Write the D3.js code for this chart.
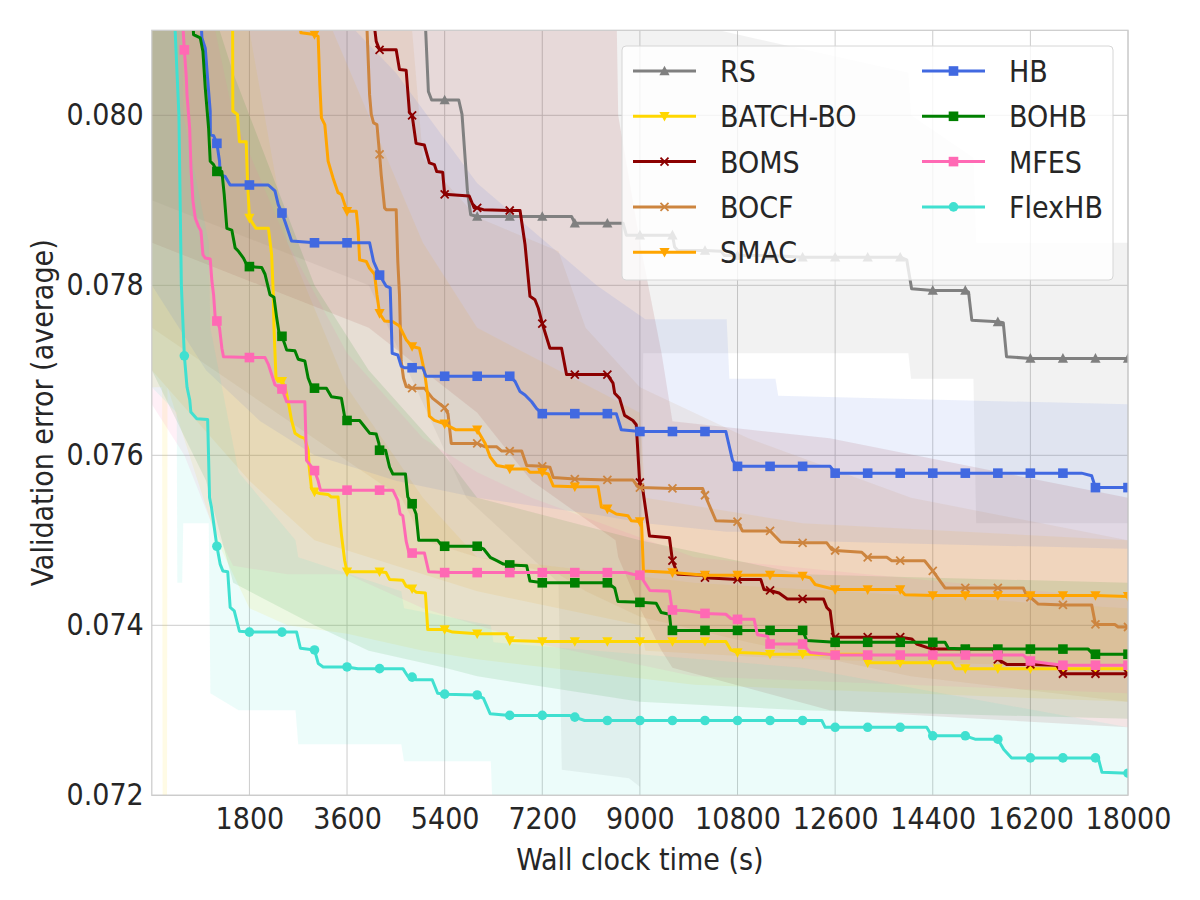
<!DOCTYPE html>
<html><head><meta charset="utf-8">
<script src="https://cdn.jsdelivr.net/npm/d3@7/dist/d3.min.js"></script>
<style>
html,body{margin:0;padding:0;background:#fff;}
svg text{font-family:"DejaVu Sans Condensed","DejaVu Sans",sans-serif;font-stretch:condensed;fill:#262626;}
</style></head><body>
<svg id="chart" width="1200" height="900"></svg>
<script>
const xTicks = [1800,3600,5400,7200,9000,10800,12600,14400,16200,18000];
const yTicks = [0.072,0.074,0.076,0.078,0.080];
const seriesNames = ["RS","BATCH-BO","BOMS","BOCF","SMAC","HB","BOHB","MFES","FlexHB"];

const rsLine = [[4800,0.0835],[5050,0.0810],[5100,0.08028],[5160,0.08018],[5400,0.08018],[5660,0.08018],[5720,0.08001],[5820,0.07911],[5880,0.07883],[6000,0.07881],[6600,0.07881],[7200,0.07881],[7740,0.07881],[7800,0.07873],[8400,0.07873],[8690,0.07873],[8750,0.07859],[9000,0.07859],[9600,0.07859],[9640,0.07845],[9700,0.07841],[10200,0.07841],[10500,0.07840],[10560,0.07835],[10800,0.07835],[11400,0.07835],[12000,0.07833],[12600,0.07833],[13200,0.07833],[13800,0.07833],[13920,0.07830],[14010,0.07796],[14400,0.07794],[15000,0.07794],[15060,0.07792],[15120,0.07759],[15600,0.07757],[15700,0.07756],[15760,0.07716],[16200,0.07714],[16800,0.07714],[17400,0.07714],[18000,0.07714]];
const batchLine = [[1200,0.0835],[1490,0.0812],[1494,0.08005],[1580,0.08001],[1616,0.07969],[1740,0.07969],[1763,0.07926],[1800,0.07879],[1920,0.07867],[2150,0.07867],[2210,0.07836],[2240,0.07789],[2253,0.0775],[2290,0.07691],[2330,0.07687],[2400,0.07687],[2455,0.07681],[2516,0.07663],[2578,0.07641],[2640,0.07626],[2730,0.07622],[2820,0.0762],[2883,0.07606],[2902,0.07586],[2945,0.07561],[3000,0.07557],[3100,0.07555],[3250,0.07554],[3310,0.07551],[3434,0.07551],[3465,0.07527],[3496,0.07507],[3557,0.07476],[3600,0.07463],[4200,0.07463],[4320,0.07462],[4384,0.07454],[4628,0.07453],[4690,0.07446],[4800,0.07443],[4873,0.07439],[5045,0.07438],[5088,0.07395],[5400,0.07395],[5547,0.07392],[6000,0.0739],[6545,0.0739],[6600,0.07382],[7200,0.07381],[7800,0.07381],[8400,0.07381],[9000,0.07381],[9600,0.07381],[10200,0.07381],[10585,0.07381],[10677,0.07371],[10800,0.07368],[11200,0.07367],[11400,0.07366],[12000,0.07366],[12600,0.07366],[13120,0.07366],[13183,0.07356],[13200,0.07356],[13800,0.07356],[14400,0.07356],[14750,0.07356],[14810,0.07349],[15000,0.07349],[15600,0.07349],[16200,0.07349],[16800,0.07349],[17400,0.07349],[18000,0.07349]];
const bomsLine = [[3900,0.0835],[4108,0.08103],[4138,0.08087],[4200,0.08077],[4506,0.08077],[4567,0.08054],[4690,0.08053],[4751,0.08003],[4800,0.0800],[4873,0.07967],[5026,0.07965],[5118,0.07944],[5210,0.07942],[5253,0.07934],[5363,0.07933],[5400,0.07907],[5853,0.07905],[5944,0.07891],[6000,0.07891],[6116,0.07889],[6600,0.07888],[6790,0.07888],[6882,0.07848],[6973,0.07787],[7065,0.07783],[7127,0.07773],[7188,0.07758],[7200,0.07755],[7341,0.07726],[7555,0.07726],[7647,0.07695],[7800,0.07695],[8400,0.07695],[8504,0.07685],[8535,0.07673],[8626,0.07667],[8718,0.07647],[8871,0.07641],[8933,0.07636],[8994,0.0757],[9000,0.07568],[9055,0.07559],[9177,0.07505],[9545,0.07503],[9600,0.07476],[9698,0.0746],[10157,0.07459],[10200,0.07456],[10800,0.07454],[11228,0.07454],[11289,0.07442],[11400,0.07441],[11565,0.07438],[11718,0.07431],[12000,0.07431],[12385,0.07431],[12446,0.07421],[12508,0.07417],[12569,0.07387],[12600,0.07386],[13200,0.07386],[13800,0.07386],[14012,0.07384],[14104,0.07378],[14288,0.07374],[14400,0.07372],[15000,0.07372],[15517,0.07372],[15578,0.07362],[15600,0.0736],[15762,0.07354],[16200,0.07354],[16683,0.07353],[16775,0.07344],[16800,0.07343],[17400,0.07343],[18000,0.07343]];
const bocfLine = [[3800,0.0835],[3967,0.08103],[4016,0.08024],[4047,0.08001],[4089,0.07991],[4151,0.07989],[4200,0.07954],[4230,0.0793],[4292,0.07891],[4322,0.07889],[4506,0.07889],[4536,0.07828],[4567,0.07789],[4598,0.07711],[4641,0.07691],[4690,0.07681],[4800,0.07679],[5026,0.07679],[5179,0.07667],[5400,0.07656],[5461,0.07649],[5491,0.07632],[5522,0.07614],[6000,0.07614],[6147,0.0761],[6361,0.0761],[6453,0.07605],[6600,0.07605],[6820,0.07605],[6912,0.07588],[7200,0.07587],[7341,0.07586],[7402,0.07574],[7800,0.07572],[8400,0.07571],[8871,0.07571],[8963,0.07563],[9000,0.07562],[9600,0.07561],[10157,0.07561],[10200,0.07553],[10402,0.07523],[10800,0.07522],[10892,0.07511],[11400,0.07511],[11596,0.07498],[12000,0.07497],[12446,0.07497],[12539,0.07489],[12600,0.07488],[13091,0.07486],[13183,0.0748],[13200,0.0748],[13552,0.0748],[13644,0.07476],[13800,0.07476],[14250,0.07476],[14400,0.07464],[14626,0.07444],[15000,0.07444],[15600,0.07444],[16069,0.07444],[16131,0.07435],[16200,0.07433],[16345,0.07425],[16800,0.07424],[17330,0.07424],[17400,0.07401],[17758,0.07401],[17819,0.07398],[18000,0.07398]];
const smacLine = [[2400,0.0830],[2750,0.08097],[3000,0.08095],[3067,0.08093],[3098,0.08036],[3128,0.07997],[3190,0.07989],[3251,0.07946],[3343,0.07926],[3434,0.07909],[3496,0.07907],[3600,0.07887],[3771,0.07887],[3802,0.07867],[3832,0.0783],[3955,0.07828],[4016,0.0782],[4108,0.07813],[4151,0.07789],[4200,0.07767],[4292,0.07758],[4445,0.07757],[4567,0.07752],[4690,0.07736],[4800,0.07728],[4934,0.07726],[5026,0.07699],[5087,0.07671],[5118,0.07646],[5210,0.07641],[5400,0.07637],[5608,0.0763],[6000,0.0763],[6147,0.07614],[6239,0.07598],[6361,0.07588],[6545,0.07586],[6600,0.07584],[6912,0.07584],[6973,0.0758],[7200,0.0758],[7310,0.07578],[7402,0.07564],[7800,0.07563],[8228,0.07563],[8290,0.07539],[8400,0.07537],[8565,0.07531],[8779,0.07529],[8841,0.07523],[9000,0.07522],[9030,0.07521],[9065,0.07464],[9600,0.07462],[10200,0.07459],[10800,0.07459],[11400,0.07459],[12000,0.07458],[12139,0.07456],[12232,0.07448],[12600,0.07442],[13200,0.07442],[13800,0.07442],[13889,0.07436],[14400,0.07435],[15000,0.07435],[15600,0.07435],[16200,0.07435],[16800,0.07435],[17400,0.07435],[18000,0.07434]];
const hbLine = [[700,0.0840],[924,0.08091],[986,0.08079],[1028,0.08044],[1077,0.08005],[1080,0.07977],[1139,0.07976],[1200,0.07967],[1249,0.07946],[1261,0.0793],[1353,0.07928],[1445,0.07918],[1800,0.07918],[2149,0.07918],[2271,0.07911],[2332,0.07895],[2400,0.07885],[2455,0.07875],[2577,0.07852],[3000,0.0785],[3600,0.0785],[4016,0.0785],[4089,0.07828],[4200,0.07812],[4322,0.07799],[4396,0.07797],[4432,0.0772],[4536,0.07718],[4598,0.07705],[4659,0.07703],[4800,0.07703],[4996,0.07703],[5057,0.07693],[5400,0.07693],[6000,0.07693],[6600,0.07693],[6698,0.07687],[6790,0.07675],[6882,0.07671],[7004,0.07663],[7096,0.07655],[7200,0.07649],[7800,0.07649],[8400,0.07649],[8565,0.07649],[8657,0.0763],[9000,0.07628],[9600,0.07628],[10200,0.07628],[10585,0.07628],[10708,0.07594],[10800,0.07587],[11400,0.07587],[12000,0.07587],[12508,0.07587],[12580,0.07581],[12600,0.07579],[13200,0.07579],[13800,0.07579],[14400,0.07579],[15000,0.07579],[15600,0.07579],[16200,0.07579],[16800,0.07579],[17144,0.07579],[17330,0.07576],[17400,0.07562],[18000,0.07562]];
const bohbLine = [[600,0.0830],[770,0.08095],[894,0.08091],[943,0.08075],[986,0.08032],[1047,0.07985],[1077,0.07946],[1139,0.07942],[1200,0.07934],[1292,0.07934],[1335,0.07907],[1384,0.07867],[1475,0.07865],[1537,0.07844],[1598,0.0784],[1690,0.07832],[1751,0.07824],[1800,0.07822],[2026,0.07821],[2088,0.07813],[2179,0.07789],[2253,0.07786],[2302,0.07762],[2351,0.07742],[2400,0.0774],[2455,0.0773],[2486,0.07724],[2639,0.07723],[2700,0.07713],[2822,0.07711],[2883,0.07691],[2945,0.07681],[3000,0.07679],[3220,0.07679],[3312,0.07669],[3496,0.07667],[3557,0.07645],[3600,0.07641],[3832,0.07641],[3894,0.07636],[4016,0.07626],[4138,0.07625],[4187,0.07614],[4200,0.07606],[4310,0.07606],[4384,0.07586],[4445,0.07578],[4677,0.07578],[4720,0.07551],[4800,0.07543],[4873,0.07531],[4922,0.0750],[5271,0.0750],[5332,0.07495],[5400,0.07493],[6000,0.07493],[6116,0.0749],[6239,0.0748],[6361,0.07476],[6484,0.07472],[6600,0.07471],[6912,0.0747],[6973,0.07452],[7200,0.0745],[7800,0.0745],[8400,0.0745],[8535,0.07444],[8596,0.07428],[9000,0.07427],[9300,0.07426],[9392,0.07415],[9545,0.07413],[9575,0.07395],[9600,0.07394],[10200,0.07394],[10800,0.07394],[11400,0.07394],[12000,0.07394],[12078,0.07382],[12600,0.0738],[13200,0.0738],[13800,0.0738],[14400,0.0738],[14626,0.0738],[14688,0.07373],[15000,0.07372],[15600,0.07372],[16200,0.07372],[16800,0.07372],[17266,0.07372],[17358,0.07366],[17400,0.07366],[18000,0.07366]];
const mfesLine = [[400,0.0840],[575,0.08103],[600,0.08077],[637,0.08044],[649,0.08024],[698,0.07985],[722,0.07938],[759,0.07899],[802,0.07879],[863,0.07869],[906,0.07864],[943,0.07836],[986,0.07832],[1077,0.07831],[1108,0.07805],[1139,0.07789],[1169,0.07762],[1200,0.07758],[1249,0.0775],[1292,0.07726],[1322,0.07716],[1800,0.07715],[2088,0.07715],[2149,0.07707],[2210,0.07695],[2271,0.07683],[2400,0.07678],[2486,0.07663],[2822,0.07663],[2853,0.07594],[3000,0.07582],[3067,0.0757],[3110,0.07559],[3600,0.07559],[4200,0.07559],[4445,0.07559],[4536,0.07547],[4579,0.07531],[4628,0.07529],[4690,0.07499],[4739,0.07486],[4800,0.07485],[5027,0.07485],[5106,0.07463],[5400,0.07462],[6000,0.07462],[6600,0.07462],[7200,0.07462],[7800,0.07462],[8400,0.07462],[8749,0.07462],[8871,0.0746],[9000,0.07459],[9184,0.07441],[9545,0.0744],[9590,0.0742],[9600,0.07418],[9851,0.07417],[10096,0.07415],[10200,0.07414],[10585,0.07413],[10677,0.07408],[10800,0.07407],[11106,0.07407],[11167,0.07389],[11351,0.07387],[11400,0.07378],[12000,0.07378],[12139,0.07368],[12600,0.07365],[13200,0.07365],[13800,0.07365],[14400,0.07365],[15000,0.07365],[15600,0.07365],[16069,0.07365],[16161,0.07359],[16200,0.07358],[16530,0.07355],[16800,0.07353],[17400,0.07353],[18000,0.07353]];
const flexLine = [[300,0.0860],[430,0.0810],[500,0.0800],[545,0.0780],[600,0.07717],[650,0.0768],[700,0.07665],[720,0.07651],[830,0.07643],[1030,0.07642],[1065,0.0755],[1100,0.07539],[1200,0.07493],[1260,0.07472],[1310,0.07464],[1400,0.07463],[1445,0.07421],[1520,0.07417],[1616,0.07393],[1800,0.07392],[2400,0.07392],[2670,0.07392],[2740,0.07373],[3000,0.07371],[3070,0.07355],[3160,0.07351],[3600,0.07351],[3800,0.07349],[4200,0.07349],[4630,0.07349],[4720,0.0734],[4800,0.07339],[4870,0.07336],[5170,0.07336],[5270,0.0732],[5400,0.07319],[6000,0.07318],[6116,0.07314],[6238,0.07296],[6600,0.07294],[7200,0.07294],[7700,0.07294],[7800,0.07292],[7980,0.07288],[8400,0.07288],[9000,0.07288],[9600,0.07288],[10200,0.07288],[10800,0.07288],[11400,0.07288],[12000,0.07288],[12354,0.07288],[12416,0.0728],[12600,0.0728],[13200,0.0728],[13800,0.0728],[14288,0.0728],[14380,0.0727],[14400,0.0727],[15000,0.0727],[15179,0.07266],[15600,0.07266],[15710,0.07254],[15854,0.07244],[16200,0.07244],[16800,0.07244],[17400,0.07244],[17450,0.07244],[17520,0.07227],[18000,0.07226]];

// bands: [time, lower, upper]
const rsBand = [[0,0.0790,0.0830],[4000,0.0780,0.0830],[5800,0.0755,0.0830],[7500,0.0745,0.0825],[7560,0.0723,0.0825],[8800,0.0722,0.0815],[9000,0.0721,0.0815],[9060,0.0772,0.0812],[13950,0.0772,0.0805],[14000,0.0769,0.0800],[15150,0.0769,0.0795],[15200,0.0752,0.0785],[18000,0.0752,0.0785]];
const batchBand = [[0,0.0768,0.0830],[190,0.0768,0.0830],[200,0.0715,0.0830],[280,0.0715,0.0830],[290,0.0768,0.0830],[1200,0.0750,0.0825],[1800,0.0742,0.0810],[2500,0.0740,0.0785],[3600,0.0739,0.0768],[5000,0.0737,0.0755],[6000,0.0736,0.0748],[10000,0.0733,0.0745],[18000,0.0731,0.0742]];
const bomsBand = [[0,0.0785,0.0830],[4000,0.0775,0.0830],[6000,0.0765,0.0830],[7000,0.0757,0.0825],[8550,0.0750,0.0820],[8600,0.0748,0.0800],[9000,0.0742,0.0785],[9400,0.0737,0.0772],[9600,0.0735,0.0764],[12500,0.0730,0.0762],[18000,0.0728,0.0755]];
const bocfBand = [[0,0.0775,0.0830],[4600,0.0755,0.0825],[5000,0.0750,0.0795],[6000,0.0748,0.0788],[7500,0.0746,0.0784],[8000,0.0744,0.0775],[9000,0.0741,0.0768],[11000,0.0738,0.0762],[14000,0.0734,0.0755],[18000,0.0731,0.0750]];
const smacBand = [[0,0.0770,0.0830],[1800,0.0757,0.0830],[3000,0.0750,0.0815],[4000,0.0748,0.0800],[5000,0.0746,0.0785],[6000,0.0744,0.0775],[9000,0.0740,0.0765],[9100,0.0737,0.0755],[12000,0.0736,0.0752],[18000,0.0735,0.0750]];
const hbBand = [[0,0.0780,0.0830],[1000,0.0770,0.0830],[2000,0.0764,0.0825],[3000,0.0760,0.0815],[4500,0.0757,0.0805],[6000,0.0755,0.0792],[8200,0.0753,0.0780],[9100,0.0752,0.0776],[10600,0.0751,0.0776],[10650,0.0751,0.0769],[11500,0.0751,0.0769],[11550,0.0750,0.0767],[18000,0.0749,0.0766]];
const bohbBand = [[0,0.0770,0.0830],[1000,0.0757,0.0815],[1500,0.0745,0.0805],[3000,0.0740,0.0780],[4000,0.0737,0.0770],[5400,0.0735,0.0760],[6000,0.0734,0.0755],[9000,0.0731,0.0750],[12000,0.0730,0.0746],[18000,0.0729,0.0745]];
const mfesBand = [[0,0.0766,0.0830],[600,0.0760,0.0825],[1100,0.0752,0.0812],[1500,0.0747,0.0800],[2500,0.0746,0.0785],[3600,0.0746,0.0772],[5000,0.0742,0.0762],[6000,0.0740,0.0758],[7000,0.0738,0.0755],[10000,0.0734,0.0748],[18000,0.0732,0.0743]];
const flexBand = [[0,0.0768,0.0830],[460,0.0765,0.0820],[470,0.0745,0.0815],[560,0.0745,0.0810],[580,0.0752,0.0800],[1050,0.0752,0.0785],[1080,0.0732,0.0775],[1600,0.0730,0.0758],[2650,0.0730,0.0750],[2700,0.0726,0.0748],[4600,0.0726,0.0744],[4650,0.0724,0.0742],[6250,0.0724,0.0740],[6300,0.0716,0.0738],[12000,0.0715,0.0735],[18000,0.0714,0.0728]];

const lines = [rsLine,batchLine,bomsLine,bocfLine,smacLine,hbLine,bohbLine,mfesLine,flexLine];
const bands = [rsBand,batchBand,bomsBand,bocfBand,smacBand,hbBand,bohbBand,mfesBand,flexBand];
const colors = ["#808080","#FFD700","#8B0000","#CD853F","#FFA500","#4169E1","#008000","#FF69B4","#40E0D0"];
const markers = ["triUp","triDown","x","x","triDown","square","square","square","circle"];

const svg = d3.select("#chart");
const x = d3.scaleLinear().domain([0,18000]).range([151.8,1128]);
const y = d3.scaleLinear().domain([0.072,0.081]).range([795.3,30.3]);
const X0=x(0), X1=x(18000), Y0=y(0.081), Y1=y(0.072);

svg.append("defs").append("clipPath").attr("id","clip")
  .append("rect").attr("x",X0).attr("y",Y0).attr("width",X1-X0).attr("height",Y1-Y0);

const grid = svg.append("g");
grid.selectAll("line.v").data(xTicks).join("line")
  .attr("x1",d=>x(d)).attr("x2",d=>x(d)).attr("y1",Y0).attr("y2",Y1)
  .attr("stroke","#cccccc").attr("stroke-width",1);
grid.selectAll("line.h").data(yTicks).join("line")
  .attr("x1",X0).attr("x2",X1).attr("y1",d=>y(d)).attr("y2",d=>y(d))
  .attr("stroke","#cccccc").attr("stroke-width",1);

const plot = svg.append("g").attr("clip-path","url(#clip)");
const area = d3.area().x(d=>x(d[0])).y0(d=>y(d[1])).y1(d=>y(d[2]));
bands.forEach((b,i)=>{
  plot.append("path").datum(b).attr("d",area).attr("fill",colors[i]).attr("fill-opacity",0.1);
});

function drawMarker(g,type,cx,cy,c){
  const s=4.8;
  if(type==="square") g.append("rect").attr("x",cx-s).attr("y",cy-s).attr("width",2*s).attr("height",2*s).attr("fill",c);
  else if(type==="circle") g.append("circle").attr("cx",cx).attr("cy",cy).attr("r",s).attr("fill",c);
  else if(type==="triUp") g.append("path").attr("d",`M${cx},${cy-s-0.5}L${cx+s+0.3},${cy+s-0.5}L${cx-s-0.3},${cy+s-0.5}Z`).attr("fill",c);
  else if(type==="triDown") g.append("path").attr("d",`M${cx},${cy+s+0.5}L${cx+s+0.3},${cy-s+0.5}L${cx-s-0.3},${cy-s+0.5}Z`).attr("fill",c);
  else if(type==="x"){ const r=4; g.append("path").attr("d",`M${cx-r},${cy-r}L${cx+r},${cy+r}M${cx-r},${cy+r}L${cx+r},${cy-r}`).attr("stroke",c).attr("stroke-width",1.8).attr("fill","none"); }
}

const lineGen = d3.line().x(d=>x(d[0])).y(d=>y(d[1]));
lines.forEach((l,i)=>{
  const g = plot.append("g");
  g.append("path").datum(l).attr("d",lineGen).attr("fill","none").attr("stroke",colors[i])
    .attr("stroke-width",3).attr("stroke-linejoin","round").attr("stroke-linecap","round");
  l.filter(d=>d[0]%600===0).forEach(d=>drawMarker(g,markers[i],x(d[0]),y(d[1]),colors[i]));
});

svg.append("rect").attr("x",X0).attr("y",Y0).attr("width",X1-X0).attr("height",Y1-Y0)
  .attr("fill","none").attr("stroke","#cccccc").attr("stroke-width",1.25);

const fs = 30;
const xAxis = svg.append("g").attr("transform",`translate(0,${Y1})`)
  .call(d3.axisBottom(x).tickValues(xTicks).tickSize(0).tickPadding(12).tickFormat(d3.format("d")));
xAxis.select(".domain").remove();
xAxis.selectAll("text").style("font-size",fs+"px").attr("fill","#262626");
const yAxis = svg.append("g").attr("transform",`translate(${X0},0)`)
  .call(d3.axisLeft(y).tickValues(yTicks).tickSize(0).tickPadding(8).tickFormat(d3.format(".3f")));
yAxis.select(".domain").remove();
yAxis.selectAll("text").style("font-size",fs+"px").attr("fill","#262626");

svg.append("text").attr("x",(X0+X1)/2).attr("y",870).attr("text-anchor","middle")
  .style("font-size",fs+"px").text("Wall clock time (s)");
svg.append("text").attr("transform",`translate(53,${(Y0+Y1)/2}) rotate(-90)`).attr("text-anchor","middle")
  .style("font-size",fs+"px").text("Validation error (average)");

// legend
const lg = svg.append("g");
lg.append("rect").attr("x",622).attr("y",46).attr("width",491).attr("height",234).attr("rx",4)
  .attr("fill","#ffffff").attr("fill-opacity",0.8).attr("stroke","#d6d6d6").attr("stroke-width",1);
const colX = [633,922];
seriesNames.forEach((n,i)=>{
  const col = i<5?0:1, row = i<5?i:i-5;
  const cy = 71 + row*45.3;
  const hx = colX[col];
  lg.append("line").attr("x1",hx).attr("x2",hx+63).attr("y1",cy).attr("y2",cy)
    .attr("stroke",colors[i]).attr("stroke-width",3);
  drawMarker(lg,markers[i],hx+31.5,cy,colors[i]);
  lg.append("text").attr("x",hx+87).attr("y",cy+11).style("font-size",fs+"px").text(n);
});
</script>
</body></html>
